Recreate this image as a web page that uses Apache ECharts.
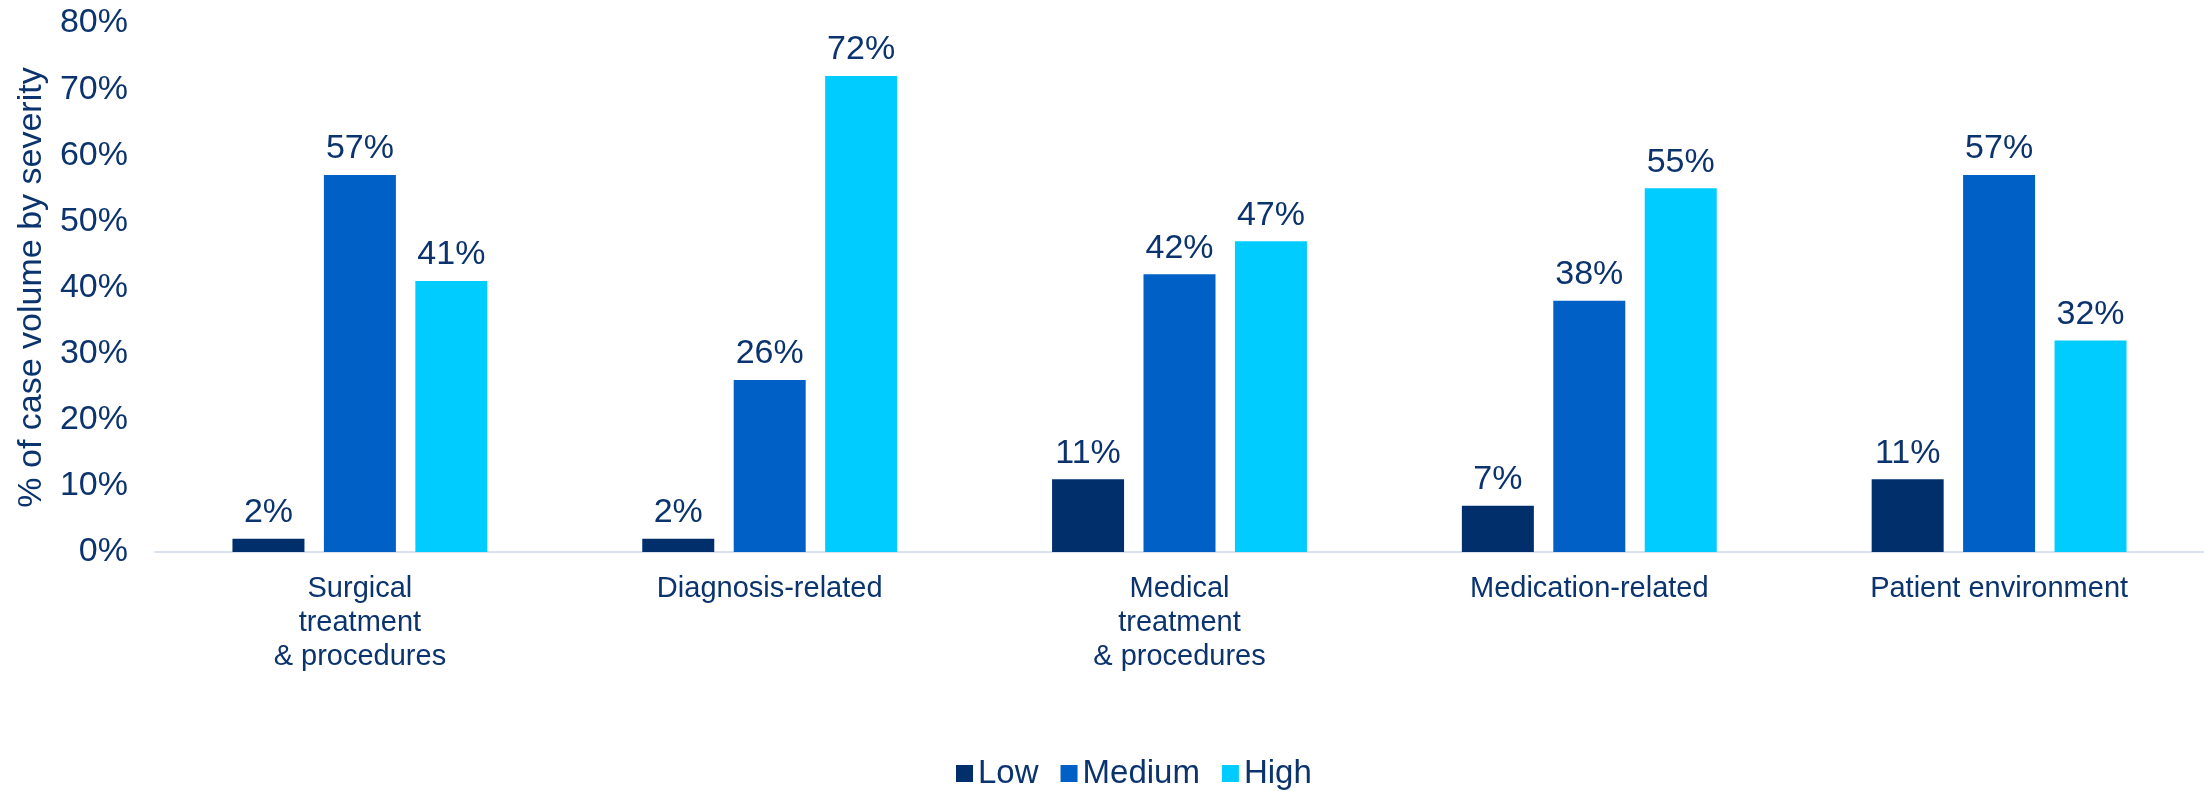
<!DOCTYPE html>
<html>
<head>
<meta charset="utf-8">
<script src="https://cdn.jsdelivr.net/npm/echarts@6/dist/echarts.min.js"></script>
<style>
html,body{margin:0;padding:0;background:#fff;}
#chart{width:2204px;height:791px;}
</style>
</head>
<body>
<div id="chart"></div>
<script>
const categories = [
  "Surgical\ntreatment\n& procedures",
  "Diagnosis-related",
  "Medical\ntreatment\n& procedures",
  "Medication-related",
  "Patient environment"
];
const seriesNames = ["Low", "Medium", "High"];
const lowValues = [2, 2, 11, 7, 11];
const mediumValues = [57, 26, 42, 38, 57];
const highValues = [41, 72, 47, 55, 32];
const yAxisTitle = "% of case volume by severity";

const colors = ["#002F6C", "#0060C6", "#00CCFF"];
const textColor = "#0B336E";
const font = "'Liberation Sans', Arial, sans-serif";

function makeSeries(name, data, color) {
  return {
    name: name,
    type: "bar",
    data: data,
    barWidth: 72,
    barGap: "27%",
    itemStyle: { color: color },
    label: {
      show: true,
      position: "top",
      distance: 9,
      formatter: "{c}%",
      color: textColor,
      fontSize: 34,
      fontFamily: font
    },
    emphasis: { disabled: true }
  };
}

const chart = echarts.init(document.getElementById("chart"), null, { renderer: "canvas" });
chart.setOption({
  animation: false,
  color: colors,
  textStyle: { fontFamily: font, color: textColor },
  grid: { left: 155, right: 0, top: 23, bottom: 239, containLabel: false },
  legend: {
    data: seriesNames,
    left: 951,
    top: 752,
    itemWidth: 17,
    itemHeight: 17,
    itemGap: 22,
    icon: "rect",
    textStyle: { fontSize: 33, color: textColor, fontFamily: font }
  },
  xAxis: {
    type: "category",
    data: categories,
    axisLine: { show: true, lineStyle: { color: "#D9E3EE", width: 2 } },
    axisTick: { show: false },
    axisLabel: {
      interval: 0,
      margin: 20,
      fontSize: 29,
      lineHeight: 34,
      color: textColor,
      fontFamily: font
    }
  },
  yAxis: {
    type: "value",
    min: 0,
    max: 80,
    interval: 10,
    name: yAxisTitle,
    nameLocation: "middle",
    nameGap: 100,
    nameTextStyle: { fontSize: 34, color: textColor, fontFamily: font },
    axisLine: { show: false },
    axisTick: { show: false },
    splitLine: { show: false },
    axisLabel: {
      formatter: "{value}%",
      fontSize: 34,
      margin: 27,
      color: textColor,
      fontFamily: font
    }
  },
  series: [
    makeSeries(seriesNames[0], lowValues, colors[0]),
    makeSeries(seriesNames[1], mediumValues, colors[1]),
    makeSeries(seriesNames[2], highValues, colors[2])
  ]
});
</script>
</body>
</html>
